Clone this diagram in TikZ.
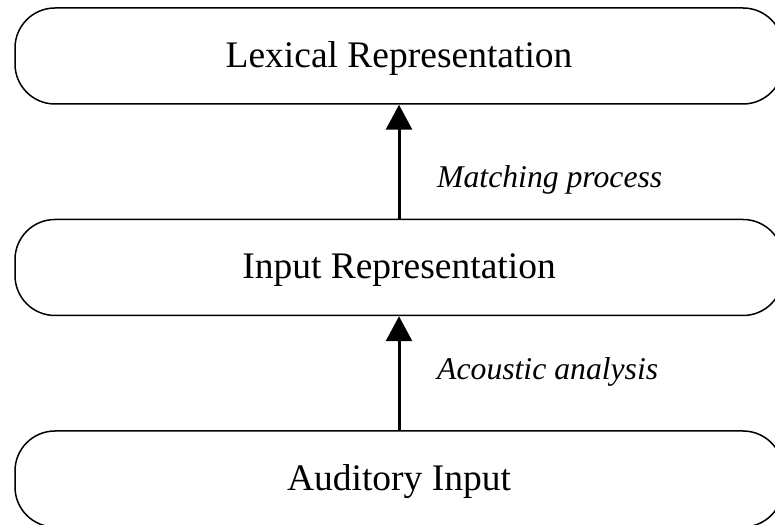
\documentclass[tikz,border=0pt]{standalone}
\usepackage{fontspec}
\setmainfont{Liberation Serif}
\usetikzlibrary{arrows.meta}
\begin{document}
\begin{tikzpicture}[x=1pt,y=1pt,
  stagebox/.style={draw=black,line width=1.5pt,rounded corners=40pt,
    minimum width=768pt,minimum height=96pt,inner sep=0pt,
    text height=23pt,text depth=0pt,
    font=\fontsize{37.5pt}{40pt}\selectfont},
  procarrow/.style={line width=3pt,-{Triangle[length=25pt,width=26pt]}},
  proclabel/.style={anchor=base west,inner sep=0pt,
    font=\fontsize{31.7pt}{34pt}\selectfont\itshape}]
\useasboundingbox (0,0) rectangle (775,524);
\clip (0,0) rectangle (775,524);
\node[stagebox] (lex) at (399,468) {Lexical Representation};
\node[stagebox] (inp) at (399,256.5) {Input Representation};
\node[stagebox] (aud) at (399,45) {Auditory Input};
\draw[procarrow] (inp.north) -- (lex.south);
\draw[procarrow] (aud.north) -- (inp.south);
\node[proclabel] (match) at (437,336) {Matching process};
\node[proclabel] (acou) at (437,144) {Acoustic analysis};
\end{tikzpicture}
\end{document}
